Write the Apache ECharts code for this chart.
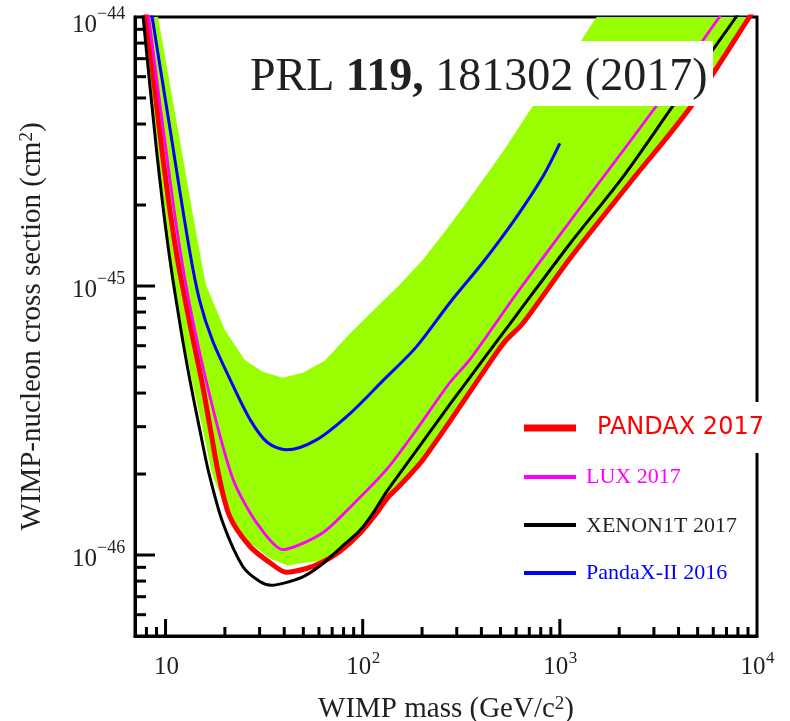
<!DOCTYPE html>
<html>
<head>
<meta charset="utf-8">
<script src="https://cdn.jsdelivr.net/npm/echarts@6/dist/echarts.min.js"></script>
<style>
  html, body { margin: 0; padding: 0; background: #ffffff; }
  #chart { width: 790px; height: 721px; }
</style>
</head>
<body>
<div id="chart"></div>
<script>
// Spin-independent WIMP-nucleon limits: mass in GeV/c^2, cross section in cm^2

// PandaX-II 2017 (this result)
const pandax2017Mass = [7.78, 9.59, 11.29, 13.48, 15.22, 16.91, 18.52, 21.18, 26.75, 33.78, 41.05, 51.83, 61.97, 76.43, 96.56, 117.3, 133.9, 150.4, 179.2, 202.1, 276.1, 476.0, 534.9, 649.4, 1120, 2256, 4634, 9154, 9849];
const pandax2017Sigma = [1.20e-44, 3.20e-45, 1.36e-45, 6.87e-46, 4.48e-46, 2.92e-46, 2.02e-46, 1.39e-46, 1.078e-46, 9.38e-47, 8.63e-47, 8.91e-47, 9.38e-47, 1.030e-46, 1.202e-46, 1.426e-46, 1.635e-46, 1.780e-46, 2.04e-46, 2.26e-46, 3.13e-46, 5.63e-46, 6.30e-46, 7.27e-46, 1.26e-45, 2.41e-45, 4.66e-45, 1.0e-44, 1.085e-44];

// LUX 2017
const lux2017Mass = [7.96, 10.88, 13.11, 16.95, 22.01, 28.92, 39.31, 61.97, 89.0, 132.3, 187.2, 276.1, 348.6, 601.2, 1120, 3080, 6448, 7079];
const lux2017Sigma = [1.20e-44, 2.08e-45, 8.87e-46, 3.78e-46, 1.91e-46, 1.32e-46, 1.048e-46, 1.202e-46, 1.539e-46, 2.08e-46, 2.92e-46, 4.37e-46, 5.31e-46, 9.34e-46, 1.73e-45, 4.66e-45, 1.0e-44, 1.10e-44];

// XENON1T 2017
const xenon1tMass = [7.51, 9.00, 10.36, 11.97, 13.28, 14.92, 16.58, 19.51, 24.65, 30.06, 34.45, 42.66, 50.82, 61.97, 76.43, 96.56, 112.4, 132.3, 159.5, 276.1, 407.1, 601.2, 1120, 2086, 3738, 7837, 8533];
const xenon1tSigma = [1.20e-44, 3.20e-45, 1.36e-45, 6.87e-46, 4.48e-46, 2.92e-46, 2.02e-46, 1.32e-46, 9.06e-47, 7.97e-47, 7.72e-47, 7.97e-47, 8.36e-47, 9.22e-47, 1.057e-46, 1.233e-46, 1.426e-46, 1.720e-46, 2.08e-46, 3.62e-46, 5.31e-46, 7.78e-46, 1.43e-45, 2.54e-45, 4.66e-45, 1.0e-44, 1.10e-44];

// PandaX-II 2016
const pandax2016Mass = [8.22, 10.41, 13.23, 14.87, 17.27, 21.30, 26.90, 32.89, 41.20, 58.27, 85.94, 126.3, 187.2, 276.1, 405.7, 601.2, 817.3, 1000];
const pandax2016Sigma = [1.20e-44, 4.06e-45, 1.36e-45, 8.87e-46, 6.30e-46, 4.48e-46, 3.18e-46, 2.62e-46, 2.46e-46, 2.68e-46, 3.35e-46, 4.44e-46, 5.94e-46, 8.65e-46, 1.22e-45, 1.80e-45, 2.54e-45, 3.39e-45];

// Sensitivity band: upper edge and lower edge
const bandUpperMass = [9.17, 10.51, 12.05, 13.80, 16.01, 19.98, 25.23, 31.13, 39.31, 49.65, 64.17, 85.94, 117.8, 154.0, 201.4, 276.1, 348.6, 440.3, 536.8, 727.0, 962.3, 1273, 1535];
const bandUpperSigma = [1.0e-44, 5.66e-45, 3.22e-45, 1.82e-45, 1.01e-45, 6.87e-46, 5.31e-46, 4.80e-46, 4.56e-46, 4.76e-46, 5.27e-46, 6.64e-46, 8.36e-46, 1.01e-45, 1.25e-45, 1.68e-45, 2.12e-45, 2.69e-45, 3.31e-45, 4.66e-45, 6.12e-45, 8.11e-45, 1.0e-44];
const bandLowerMass = [7.67, 8.33, 9.00, 9.80, 10.76, 13.59, 15.46, 17.17, 20.69, 26.75, 33.78, 41.69, 52.02, 61.97, 76.43, 96.56, 117.8, 150.4, 201.4, 276.1, 476.0, 649.4, 1120, 2256, 4634, 9204];
const bandLowerSigma = [1.0e-44, 5.66e-45, 3.22e-45, 1.82e-45, 1.01e-45, 4.48e-46, 2.92e-46, 2.02e-46, 1.41e-46, 1.11e-46, 9.70e-47, 9.14e-47, 9.38e-47, 9.50e-47, 1.057e-46, 1.233e-46, 1.463e-46, 1.827e-46, 2.30e-46, 3.16e-46, 5.69e-46, 7.35e-46, 1.27e-45, 2.43e-45, 4.69e-45, 1.0e-44];

// Axis ranges, tick values and labelled decades
const massRange = [7, 10000];
const sigmaRange = [5e-47, 1e-44];
const xMajorTicks = [10, 100, 1000];
const xMinorTicks = [8, 9, 20, 30, 40, 50, 60, 70, 80, 90, 200, 300, 400, 500, 600, 700, 800, 900, 2000, 3000, 4000, 5000, 6000, 7000, 8000, 9000];
const yMajorTicks = [1e-46, 1e-45];
const yMinorTicks = [6e-47, 7e-47, 8e-47, 9e-47, 2e-46, 3e-46, 4e-46, 5e-46, 6e-46, 7e-46, 8e-46, 9e-46, 2e-45, 3e-45, 4e-45, 5e-45, 6e-45, 7e-45, 8e-45, 9e-45];
const xLabelValues = [10, 100, 1000, 10000];
const yLabelValues = [1e-46, 1e-45, 1e-44];

// The value axis works in units of 1e-47 cm^2 so tick arithmetic stays well inside float precision
const SIGMA_UNIT = 1e-47;
const toUnit = s => s / SIGMA_UNIT;
const pairs = (xs, ys) => xs.map((x, i) => [x, toUnit(ys[i])]);

const SERIF = 'Liberation Serif';
const INK = '#231f20';

const titleRich = {
  t: { fontFamily: SERIF, fontSize: 29, lineHeight: 29, verticalAlign: 'bottom', color: INK },
  s: { fontFamily: SERIF, fontSize: 19, lineHeight: 19, verticalAlign: 'top', padding: [0, 0, 14, 0], color: INK }
};

// tick records: [mass, sigma (axis units), length, direction(0 = along x, 1 = along y)]
const tickData = []
  .concat(xMajorTicks.map(v => [v, toUnit(sigmaRange[0]), 17, 0]))
  .concat(xMinorTicks.map(v => [v, toUnit(sigmaRange[0]), 9, 0]))
  .concat(yMajorTicks.map(v => [massRange[0], toUnit(v), 20, 1]))
  .concat(yMinorTicks.map(v => [massRange[0], toUnit(v), 11, 1]));

// decade label records: [mass, sigma (axis units), exponent, direction]
const labelData = []
  .concat(xLabelValues.map(v => [v, toUnit(sigmaRange[0]), Math.round(Math.log10(v)), 0]))
  .concat(yLabelValues.map(v => [massRange[0], toUnit(v), Math.round(Math.log10(v)), 1]));

const chart = echarts.init(document.getElementById('chart'), null, { renderer: 'canvas' });

const curve = (name, xs, ys, color, width, smooth, z) => ({
  name, type: 'line', z, data: pairs(xs, ys),
  showSymbol: false, symbol: 'none', smooth, silent: true,
  lineStyle: { color, width }
});

function textEl(text, x, y, size, align) {
  return {
    type: 'text', x, y,
    style: { text, fontFamily: SERIF, fontSize: size, fill: INK, align, verticalAlign: 'middle' }
  };
}

chart.setOption({
  animation: false,
  backgroundColor: '#ffffff',
  grid: {
    left: 135, right: 33, top: 17, bottom: 85,
    containLabel: false, outerBoundsMode: 'none',
    show: true, borderColor: '#000', borderWidth: 3, backgroundColor: 'transparent'
  },
  xAxis: {
    type: 'log', logBase: 10, min: massRange[0], max: massRange[1],
    axisLine: { lineStyle: { color: '#000', width: 3 } },
    axisTick: { show: false },
    splitLine: { show: false },
    axisLabel: { show: false },
    name: '{t|WIMP mass (GeV/c}{s|2}{t|)}',
    nameLocation: 'middle', nameGap: 59,
    nameTextStyle: { rich: titleRich }
  },
  yAxis: {
    type: 'log', logBase: 10, min: toUnit(sigmaRange[0]), max: toUnit(sigmaRange[1]),
    axisLine: { lineStyle: { color: '#000', width: 3 } },
    axisTick: { show: false },
    splitLine: { show: false },
    axisLabel: { show: false },
    name: '{t|WIMP-nucleon cross section (cm}{s|2}{t|)}',
    nameLocation: 'middle', nameGap: 88,
    nameTextStyle: { rich: titleRich }
  },
  series: [
    {
      name: 'band', type: 'custom', z: 1, silent: true, clip: true,
      data: [[bandUpperMass[0], toUnit(bandUpperSigma[0])]],
      renderItem: function (params, api) {
        const pts = [];
        for (let i = 0; i < bandUpperMass.length; i++) pts.push(api.coord([bandUpperMass[i], toUnit(bandUpperSigma[i])]));
        for (let i = bandLowerMass.length - 1; i >= 0; i--) pts.push(api.coord([bandLowerMass[i], toUnit(bandLowerSigma[i])]));
        return { type: 'polygon', shape: { points: pts }, style: { fill: '#99ff00', stroke: null } };
      }
    },
    curve('PANDAX 2017', pandax2017Mass, pandax2017Sigma, '#ff0000', 5, 0.3, 3),
    curve('LUX 2017', lux2017Mass, lux2017Sigma, '#ff00ff', 2.8, 0.25, 4),
    curve('XENON1T 2017', xenon1tMass, xenon1tSigma, '#000000', 3, 0.3, 5),
    curve('PandaX-II 2016', pandax2016Mass, pandax2016Sigma, '#0000ff', 3, 0.3, 6),
    {
      name: 'ticks', type: 'custom', z: 7, silent: true, clip: false,
      data: tickData,
      renderItem: function (params, api) {
        const p = api.coord([api.value(0), api.value(1)]);
        const len = api.value(2);
        const alongX = api.value(3) === 0;
        return {
          type: 'line',
          shape: alongX ? { x1: p[0], y1: p[1], x2: p[0], y2: p[1] - len }
                        : { x1: p[0], y1: p[1], x2: p[0] + len, y2: p[1] },
          style: { stroke: '#000', lineWidth: 3 }
        };
      }
    },
    {
      // decade labels: "10" with a raised exponent
      name: 'decades', type: 'custom', z: 7, silent: true, clip: false,
      data: labelData,
      renderItem: function (params, api) {
        const p = api.coord([api.value(0), api.value(1)]);
        const e = api.value(2);
        const alongX = api.value(3) === 0;
        const sup = e < 0 ? '\u2212' + (-e) : String(e);
        if (alongX) {
          const y = p[1] + 31;
          if (e === 1) return textEl('10', p[0] + 1, y, 25, 'center');
          return {
            type: 'group',
            children: [
              textEl('10', p[0] + 8.5, y, 25, 'right'),
              textEl(sup, p[0] + 9, y - 8.5, 17, 'left')
            ]
          };
        }
        const y0 = Math.max(p[1], 21);
        return {
          type: 'group',
          children: [
            textEl('10', 97, y0 + 4.5, 25, 'right'),
            textEl(sup, 97, y0 - 7, 18, 'left')
          ]
        };
      }
    }
  ],
  graphic: {
    elements: [
      // journal reference
      { type: 'rect', z: 100, shape: { x: 240, y: 41, width: 473, height: 65 }, style: { fill: '#ffffff' } },
      {
        type: 'text', z: 101, x: 250, y: 78,
        style: {
          text: 'PRL {b|119,} 181302 (2017)',
          fontFamily: SERIF, fontSize: 46, fill: INK, align: 'left', verticalAlign: 'middle',
          rich: { b: { fontFamily: SERIF, fontSize: 46, fontWeight: 'bold', fill: INK } }
        }
      },
      // legend
      { type: 'rect', z: 100, shape: { x: 515, y: 402, width: 262, height: 51 }, style: { fill: '#ffffff' } },
      { type: 'line', z: 101, shape: { x1: 524, y1: 428, x2: 576, y2: 428 }, style: { stroke: '#ff0000', lineWidth: 7 } },
      { type: 'text', z: 101, x: 597, y: 428, style: { text: 'PANDAX 2017', fontFamily: 'DejaVu Sans', fontSize: 24, fill: '#ff0000', align: 'left', verticalAlign: 'middle' } },
      { type: 'line', z: 101, shape: { x1: 524, y1: 477, x2: 576, y2: 477 }, style: { stroke: '#ff00ff', lineWidth: 4 } },
      { type: 'text', z: 101, x: 586, y: 477, style: { text: 'LUX 2017', fontFamily: SERIF, fontSize: 22, fill: '#ff00ff', align: 'left', verticalAlign: 'middle' } },
      { type: 'line', z: 101, shape: { x1: 524, y1: 525, x2: 576, y2: 525 }, style: { stroke: '#000000', lineWidth: 4 } },
      { type: 'text', z: 101, x: 586, y: 526, style: { text: 'XENON1T 2017', fontFamily: SERIF, fontSize: 22, fill: INK, align: 'left', verticalAlign: 'middle' } },
      { type: 'line', z: 101, shape: { x1: 524, y1: 573, x2: 576, y2: 573 }, style: { stroke: '#0000ff', lineWidth: 4 } },
      { type: 'text', z: 101, x: 586, y: 573, style: { text: 'PandaX-II 2016', fontFamily: SERIF, fontSize: 22, fill: '#0000ff', align: 'left', verticalAlign: 'middle' } }
    ]
  }
});
</script>
</body>
</html>
